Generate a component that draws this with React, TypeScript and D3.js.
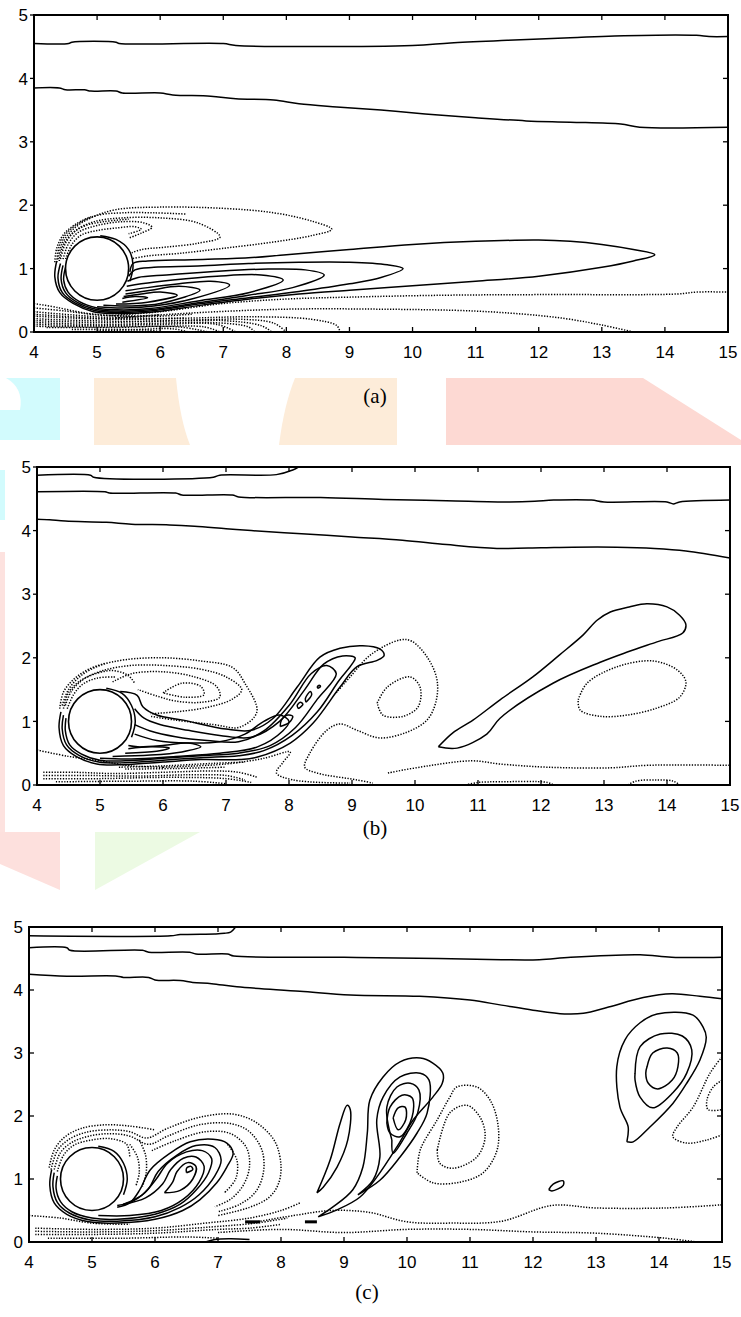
import * as d3 from 'd3';

type Pt = [number, number];

const xTicks = [4, 5, 6, 7, 8, 9, 10, 11, 12, 13, 14, 15];
const yTicks = [0, 1, 2, 3, 4, 5];
const cylinder = { cx: 5, cy: 1, r: 0.5 };

// ---------- panel (a) ----------
const aSolid: Pt[][] = [
  [[4, 4.55], [4.55, 4.55], [4.6, 4.57], [5.3, 4.57], [5.35, 4.55], [7, 4.55], [7.2, 4.52], [10, 4.52], [10.6, 4.56], [11.5, 4.6], [12.5, 4.64], [13.2, 4.67], [14.5, 4.68], [14.7, 4.66], [15, 4.66]],
  [[4, 3.85], [4.4, 3.85], [4.5, 3.82], [4.8, 3.82], [4.9, 3.8], [5.3, 3.8], [5.4, 3.77], [6.0, 3.77], [6.2, 3.74], [6.8, 3.72], [7.2, 3.68], [7.8, 3.66], [8.2, 3.6], [8.8, 3.55], [9.5, 3.5], [10.2, 3.44], [11, 3.38], [11.8, 3.33], [12.5, 3.31], [13.3, 3.28], [13.6, 3.23], [15, 3.23]],
  [[4.36, 1.12], [4.33, 0.87], [4.41, 0.62], [4.62, 0.45], [4.94, 0.32], [5.32, 0.29], [5.84, 0.31], [6.63, 0.42], [7.42, 0.52], [8.2, 0.6], [9, 0.66], [10, 0.73], [11, 0.8], [12, 0.88], [13, 1.02], [13.5, 1.12], [13.84, 1.22], [13.5, 1.3], [13, 1.38], [12.5, 1.43], [12, 1.45], [11, 1.43], [10, 1.38], [9, 1.3], [8, 1.22], [7.4, 1.17], [6.5, 1.14], [5.8, 1.12], [5.57, 1.08], [5.52, 0.95]],
  [[4.42, 1.08], [4.38, 0.85], [4.45, 0.62], [4.65, 0.46], [4.96, 0.34], [5.32, 0.31], [5.84, 0.33], [6.6, 0.44], [7.4, 0.54], [8.2, 0.64], [9, 0.76], [9.5, 0.86], [9.85, 1.0], [9.6, 1.06], [9, 1.1], [8.2, 1.1], [7.4, 1.08], [6.6, 1.04], [5.9, 1.02], [5.6, 0.98], [5.5, 0.88]],
  [[4.46, 1.05], [4.43, 0.83], [4.5, 0.62], [4.68, 0.47], [4.98, 0.36], [5.32, 0.33], [5.84, 0.35], [6.6, 0.46], [7.4, 0.58], [8.1, 0.7], [8.6, 0.9], [8.3, 0.98], [7.6, 0.99], [6.8, 0.95], [6.1, 0.9], [5.65, 0.86], [5.48, 0.8]],
  [[4.5, 1.02], [4.47, 0.82], [4.54, 0.63], [4.72, 0.48], [5.0, 0.38], [5.32, 0.35], [5.84, 0.37], [6.6, 0.49], [7.4, 0.62], [7.95, 0.82], [7.6, 0.9], [6.9, 0.88], [6.2, 0.82], [5.7, 0.76], [5.47, 0.72]],
  [[5.0, 0.4], [5.4, 0.38], [5.9, 0.41], [6.5, 0.52], [7.1, 0.74], [6.8, 0.8], [6.3, 0.76], [5.8, 0.7], [5.45, 0.65]],
  [[5.1, 0.42], [5.5, 0.41], [6.0, 0.45], [6.63, 0.66], [6.3, 0.72], [5.85, 0.66], [5.45, 0.6]],
  [[5.3, 0.44], [5.8, 0.47], [6.27, 0.58], [6.0, 0.63], [5.7, 0.6], [5.42, 0.56]],
  [[5.4, 0.47], [5.8, 0.54], [5.6, 0.56], [5.4, 0.53]],
  [[5.05, 1.52], [5.3, 1.46], [5.5, 1.3], [5.57, 1.05], [5.52, 0.8]],
];

const aDotted: Pt[][] = [
  [[4.38, 1.15], [4.45, 1.4], [4.62, 1.62], [4.9, 1.8], [5.3, 1.93], [6, 1.97], [7, 1.95], [7.8, 1.88], [8.4, 1.75], [8.72, 1.62], [8.4, 1.52], [7.8, 1.42], [7, 1.32], [6.3, 1.24], [5.8, 1.2], [5.57, 1.16]],
  [[4.42, 1.15], [4.5, 1.4], [4.66, 1.6], [4.95, 1.74], [5.4, 1.8], [6, 1.8], [6.6, 1.72], [6.95, 1.5], [6.6, 1.4], [6.1, 1.34], [5.7, 1.3], [5.55, 1.25]],
  [[4.46, 1.15], [4.55, 1.4], [4.7, 1.57], [5.0, 1.68], [5.4, 1.74], [5.75, 1.72], [5.87, 1.65], [5.7, 1.56], [5.5, 1.48]],
  [[4.5, 1.15], [4.6, 1.38], [4.75, 1.53], [5.0, 1.6], [5.3, 1.64], [5.6, 1.66], [5.7, 1.62], [5.5, 1.55]],
  [[4.36, 1.1], [4.4, 1.35], [4.52, 1.56], [4.72, 1.72], [5.0, 1.84], [5.4, 1.88], [5.9, 1.88], [6.4, 1.86]],
  [[4.4, 1.12], [4.46, 1.36], [4.6, 1.55], [4.82, 1.68], [5.1, 1.74], [5.5, 1.78]],
  [[4.33, 1.1], [4.36, 1.32], [4.47, 1.54], [4.66, 1.7], [4.9, 1.82]],
  [[4, 0.45], [4.4, 0.38], [4.8, 0.3], [5.2, 0.26], [5.6, 0.25]],
  [[4, 0.38], [4.5, 0.33], [5, 0.27], [5.5, 0.25], [6.0, 0.27]],
  [[4, 0.32], [4.6, 0.27], [5.2, 0.23], [5.8, 0.24], [6.5, 0.28]],
  [[4, 0.28], [4.6, 0.24], [5.2, 0.21], [5.8, 0.21], [6.4, 0.22]],
  [[5.2, 0.26], [6, 0.32], [7, 0.45], [8, 0.52], [9, 0.55], [10.5, 0.58], [12, 0.59], [14.2, 0.6], [14.5, 0.63], [15, 0.63]],
  [[5.3, 0.22], [6.5, 0.3], [8, 0.36], [9.5, 0.36], [11, 0.33], [12, 0.26], [12.5, 0.2], [13, 0.11], [13.5, 0.0]],
  [[4, 0.25], [4.6, 0.22], [5.4, 0.2], [6.5, 0.22], [7.5, 0.24], [8.4, 0.2], [8.8, 0.1], [8.85, 0]],
  [[4, 0.21], [4.8, 0.18], [5.6, 0.17], [6.6, 0.19], [7.3, 0.2], [7.8, 0.14], [8.0, 0]],
  [[4, 0.18], [5, 0.15], [6, 0.17], [7, 0.18], [7.6, 0.1], [7.77, 0]],
  [[4, 0.15], [5, 0.12], [6, 0.14], [6.8, 0.15], [7.4, 0.08], [7.5, 0]],
  [[4, 0.12], [5, 0.1], [6, 0.12], [6.9, 0.12], [7.2, 0]],
  [[4, 0.09], [5, 0.08], [6, 0.09], [6.7, 0.08], [6.95, 0]],
  [[4.2, 0.07], [5.2, 0.07], [6.3, 0.08], [6.76, 0]],
  [[4.6, 0.04], [5.6, 0.04], [6.2, 0.05], [6.45, 0]],
  [[5, 0.02], [5.8, 0.03], [6.04, 0]],
];

// ---------- panel (b) ----------
const bSolid: Pt[][] = [
  [[4, 4.87], [4.85, 4.87], [4.9, 4.84], [6.8, 4.84], [6.9, 4.87], [7.8, 4.88], [8.05, 4.95], [8.15, 5.0]],
  [[4, 4.61], [5.08, 4.61], [5.15, 4.59], [6.2, 4.59], [6.3, 4.56], [7.1, 4.56], [7.2, 4.53], [8.5, 4.52], [9.5, 4.49], [10.5, 4.47], [11.5, 4.45], [11.9, 4.46], [12.2, 4.48], [12.8, 4.48], [13.0, 4.45], [14.0, 4.45], [14.1, 4.42], [14.2, 4.45], [15, 4.48]],
  [[4, 4.18], [4.2, 4.17], [4.45, 4.15], [5.1, 4.13], [5.5, 4.1], [6.1, 4.09], [6.5, 4.07], [7, 4.03], [7.4, 4.0], [8.2, 3.95], [9, 3.9], [9.8, 3.85], [10.5, 3.78], [11.3, 3.72], [12, 3.73], [12.5, 3.74], [13.2, 3.74], [13.8, 3.72], [14.3, 3.68], [15, 3.57]],
  [[10.37, 0.6], [10.6, 0.82], [10.92, 1.02], [11.35, 1.34], [11.87, 1.7], [12.3, 2.05], [12.67, 2.36], [12.89, 2.59], [13.1, 2.72], [13.4, 2.8], [13.68, 2.85], [14.0, 2.8], [14.2, 2.67], [14.3, 2.52], [14.25, 2.39], [13.84, 2.25], [13.37, 2.09], [12.94, 1.93], [12.19, 1.6], [11.35, 1.05], [11.14, 0.8], [10.67, 0.58], [10.37, 0.6]],
  [[4.38, 1.15], [4.35, 0.9], [4.42, 0.62], [4.62, 0.45], [4.95, 0.33], [5.4, 0.32], [6.0, 0.36], [6.6, 0.4], [7.22, 0.4], [7.5, 0.44], [8.02, 0.66], [8.38, 0.97], [8.81, 1.54], [9.08, 1.86], [9.4, 1.96], [9.51, 2.04], [9.44, 2.14], [9.17, 2.19], [8.81, 2.15], [8.49, 2.01], [8.13, 1.54], [7.75, 1.05], [7.4, 0.86], [7.0, 0.88], [6.32, 1.02], [5.9, 1.1], [5.68, 1.23], [5.59, 1.41], [5.32, 1.47]],
  [[4.42, 1.1], [4.4, 0.88], [4.47, 0.63], [4.66, 0.47], [4.98, 0.36], [5.4, 0.35], [6, 0.39], [6.6, 0.43], [7.2, 0.46], [7.6, 0.54], [8.05, 0.78], [8.45, 1.15], [8.8, 1.65], [9.0, 1.9], [9.05, 2.0], [8.85, 2.03], [8.55, 1.9], [8.25, 1.5], [7.85, 1.0], [7.4, 0.75], [6.9, 0.78], [6.4, 0.86], [5.95, 0.95], [5.7, 1.05], [5.55, 1.2]],
  [[4.46, 1.05], [4.45, 0.85], [4.52, 0.63], [4.7, 0.49], [5.0, 0.39], [5.4, 0.38], [6, 0.42], [6.6, 0.46], [7.2, 0.5], [7.7, 0.62], [8.1, 0.9], [8.45, 1.35], [8.75, 1.75], [8.6, 1.88], [8.35, 1.75], [8.0, 1.25], [7.6, 0.85], [7.2, 0.68], [6.7, 0.7], [6.2, 0.76], [5.8, 0.85], [5.55, 0.95]],
  [[5.0, 0.42], [5.5, 0.41], [6.2, 0.45], [6.9, 0.5], [7.5, 0.6], [7.9, 0.85], [8.0, 1.0], [7.85, 1.1], [7.6, 1.0], [7.3, 0.8], [6.9, 0.68], [6.4, 0.66], [5.9, 0.7], [5.55, 0.8]],
  [[5.2, 0.45], [5.8, 0.47], [6.3, 0.52], [6.6, 0.6], [6.4, 0.66], [6.0, 0.62], [5.6, 0.6], [5.45, 0.62]],
  [[5.4, 0.5], [5.9, 0.53], [6.1, 0.58], [5.8, 0.6], [5.45, 0.57]],
  [[7.86, 0.92], [8.0, 0.98], [8.06, 1.08], [7.98, 1.1], [7.88, 1.02], [7.86, 0.92]],
  [[8.15, 1.2], [8.22, 1.27], [8.18, 1.3], [8.13, 1.25], [8.15, 1.2]],
  [[8.27, 1.3], [8.36, 1.42], [8.34, 1.47], [8.26, 1.36], [8.27, 1.3]],
  [[8.46, 1.52], [8.5, 1.55], [8.48, 1.57], [8.45, 1.54], [8.46, 1.52]],
  [[5.1, 1.52], [5.35, 1.44], [5.5, 1.25], [5.56, 1.0], [5.5, 0.75]],
];

const bDotted: Pt[][] = [
  [[4.4, 1.25], [4.5, 1.5], [4.7, 1.72], [5.0, 1.88], [5.4, 1.97], [6.0, 2.0], [6.6, 1.95], [7.1, 1.85], [7.3, 1.6], [7.49, 1.15], [7.22, 0.91], [6.8, 0.95], [6.2, 1.02], [5.8, 1.08]],
  [[4.45, 1.25], [4.55, 1.48], [4.75, 1.67], [5.05, 1.8], [5.5, 1.88], [6.0, 1.88], [6.6, 1.82], [7.0, 1.7], [7.25, 1.5], [7.1, 1.35], [6.7, 1.22], [6.2, 1.15], [5.8, 1.12]],
  [[5.2, 1.62], [5.5, 1.75], [6.0, 1.78], [6.5, 1.7], [6.85, 1.55], [6.9, 1.38], [6.6, 1.3], [6.2, 1.32], [5.9, 1.4], [5.6, 1.5]],
  [[6.0, 1.45], [6.3, 1.6], [6.6, 1.55], [6.65, 1.42], [6.35, 1.38], [6.0, 1.45]],
  [[4.42, 1.2], [4.5, 1.45], [4.66, 1.62], [4.9, 1.74], [5.2, 1.8], [5.45, 1.72], [5.55, 1.6]],
  [[4.48, 1.2], [4.58, 1.42], [4.72, 1.58], [4.95, 1.68], [5.25, 1.7]],
  [[4.36, 1.2], [4.42, 1.46], [4.58, 1.66], [4.82, 1.82], [5.1, 1.92]],
  [[8.75, 1.45], [8.97, 1.7], [9.3, 2.05], [9.76, 2.28], [9.95, 2.26], [10.2, 2.0], [10.35, 1.65], [10.33, 1.3], [10.19, 1.02], [9.87, 0.83], [9.44, 0.74], [9.08, 0.86], [8.81, 0.96], [8.6, 0.86], [8.33, 0.5], [8.25, 0.28], [8.44, 0.19], [9.08, 0.08], [9.33, 0.03]],
  [[9.4, 1.29], [9.56, 1.54], [9.92, 1.7], [10.08, 1.54], [10.05, 1.23], [9.81, 1.08], [9.49, 1.1], [9.4, 1.29]],
  [[12.59, 1.34], [12.73, 1.6], [13.21, 1.86], [13.78, 1.95], [14.16, 1.81], [14.3, 1.62], [14.2, 1.38], [13.84, 1.21], [13.37, 1.1], [12.94, 1.08], [12.62, 1.18], [12.59, 1.34]],
  [[6.0, 0.28], [7.0, 0.33], [7.6, 0.42], [8.02, 0.52], [7.9, 0.35], [7.8, 0.19], [8.06, 0.08], [8.97, 0.03]],
  [[9.57, 0.19], [10.2, 0.3], [10.9, 0.38], [11.35, 0.33], [12.1, 0.28], [13.1, 0.27], [13.7, 0.31], [15, 0.31]],
  [[13.38, 0], [13.5, 0.06], [13.84, 0.08], [14.1, 0.06], [14.2, 0]],
  [[10.8, 0.0], [11.0, 0.04], [11.35, 0.05], [12.1, 0.04], [12.2, 0]],
  [[4, 0.55], [4.5, 0.45], [5, 0.38], [5.5, 0.3], [6.0, 0.28]],
  [[4.1, 0.2], [4.6, 0.2], [5.2, 0.18], [6, 0.2], [6.8, 0.22], [7.2, 0.2], [7.5, 0.12]],
  [[4.1, 0.15], [4.8, 0.15], [5.6, 0.14], [6.4, 0.16], [7.0, 0.15], [7.3, 0.08]],
  [[4.1, 0.1], [5, 0.1], [6, 0.12], [7, 0.1], [7.4, 0.04]],
  [[4.3, 0.05], [5.5, 0.06], [6.5, 0.06], [7, 0.02]],
  [[5.3, 0.28], [6.0, 0.3], [6.8, 0.34], [7.3, 0.36]],
  [[5.4, 0.25], [6.2, 0.26], [7, 0.28]],
];

// ---------- panel (c) ----------
const cSolid: Pt[][] = [
  [[4, 4.86], [6.25, 4.86], [6.4, 4.88], [6.95, 4.89], [7.1, 4.9], [7.2, 4.92], [7.28, 5.0]],
  [[4, 4.67], [4.6, 4.67], [4.65, 4.63], [5.8, 4.63], [5.9, 4.6], [6.55, 4.6], [6.65, 4.57], [7.15, 4.57], [7.25, 4.54], [9, 4.52], [10.5, 4.5], [11.5, 4.48], [12.1, 4.48], [12.6, 4.52], [13.7, 4.56], [14.2, 4.52], [15, 4.52]],
  [[4, 4.25], [4.6, 4.22], [5.4, 4.22], [5.5, 4.2], [5.9, 4.2], [6.0, 4.16], [6.4, 4.15], [6.6, 4.12], [6.9, 4.1], [7.3, 4.05], [8.3, 3.98], [9.1, 3.92], [10.2, 3.9], [11, 3.84], [11.5, 3.76], [12, 3.68], [12.5, 3.62], [12.8, 3.63], [13.2, 3.73], [13.75, 3.88], [14.2, 3.94], [14.65, 3.9], [15, 3.86]],
  [[13.49, 1.59], [13.51, 1.83], [13.38, 2.14], [13.33, 2.78], [13.46, 3.21], [13.7, 3.48], [13.97, 3.62], [14.54, 3.6], [14.7, 3.41], [14.75, 3.25], [14.65, 2.89], [14.44, 2.52], [14.22, 2.2], [13.86, 1.83], [13.59, 1.59], [13.49, 1.59]],
  [[13.62, 2.68], [13.7, 3.1], [14.02, 3.3], [14.37, 3.27], [14.52, 3.05], [14.44, 2.68], [14.22, 2.37], [13.9, 2.13], [13.7, 2.3], [13.62, 2.57], [13.62, 2.68]],
  [[13.81, 2.78], [13.9, 3.0], [14.13, 3.08], [14.29, 3.0], [14.3, 2.78], [14.21, 2.57], [13.98, 2.43], [13.83, 2.52], [13.79, 2.68], [13.81, 2.78]],
  [[12.25, 0.83], [12.32, 0.92], [12.48, 0.97], [12.48, 0.9], [12.3, 0.81], [12.25, 0.83]],
  [[8.57, 0.78], [8.78, 1.3], [8.94, 1.89], [9.05, 2.17], [9.1, 2.1], [9.06, 1.62], [8.89, 1.19], [8.67, 0.87], [8.57, 0.78]],
  [[8.59, 0.4], [8.89, 0.51], [9.25, 0.71], [9.52, 1.03], [9.84, 1.51], [10.1, 1.94], [10.41, 2.3], [10.56, 2.52], [10.57, 2.68], [10.41, 2.84], [10.21, 2.92], [9.89, 2.86], [9.62, 2.62], [9.41, 2.25], [9.37, 1.73], [9.3, 1.19], [9.14, 0.83], [8.83, 0.56], [8.59, 0.4]],
  [[9.22, 0.75], [9.46, 0.98], [9.57, 1.35], [9.52, 1.94], [9.62, 2.3], [9.89, 2.62], [10.21, 2.68], [10.35, 2.57], [10.32, 2.05], [10.16, 1.73], [9.89, 1.35], [9.57, 0.98], [9.22, 0.75]],
  [[9.76, 1.62], [9.68, 2.14], [9.84, 2.46], [10.05, 2.52], [10.19, 2.41], [10.17, 2.05], [10.0, 1.73], [9.78, 1.41], [9.76, 1.62]],
  [[9.68, 1.89], [9.73, 2.14], [9.92, 2.33], [10.08, 2.29], [10.08, 1.98], [9.89, 1.67], [9.73, 1.73], [9.68, 1.89]],
  [[9.78, 1.97], [9.86, 2.13], [9.97, 2.14], [9.98, 1.94], [9.86, 1.78], [9.78, 1.97]],
  [[4.36, 1.15], [4.33, 0.9], [4.4, 0.62], [4.6, 0.44], [4.95, 0.32], [5.4, 0.3], [6.0, 0.36], [6.44, 0.5], [6.71, 0.67], [6.98, 0.94], [7.14, 1.19], [7.24, 1.41], [7.14, 1.57], [6.92, 1.63], [6.56, 1.59], [6.24, 1.41], [5.92, 1.14], [5.76, 0.83], [5.6, 0.62], [5.4, 0.55]],
  [[4.4, 1.1], [4.38, 0.88], [4.45, 0.63], [4.64, 0.46], [4.97, 0.35], [5.4, 0.33], [6.0, 0.4], [6.4, 0.55], [6.7, 0.75], [6.95, 1.05], [7.05, 1.3], [6.95, 1.5], [6.65, 1.53], [6.35, 1.38], [6.05, 1.12], [5.9, 0.85], [5.65, 0.65], [5.4, 0.58]],
  [[4.45, 1.05], [4.43, 0.85], [4.5, 0.64], [4.68, 0.48], [5.0, 0.38], [5.4, 0.36], [6.0, 0.44], [6.4, 0.6], [6.65, 0.82], [6.85, 1.1], [6.9, 1.32], [6.75, 1.45], [6.5, 1.43], [6.2, 1.25], [6.02, 1.0], [5.8, 0.75], [5.5, 0.6]],
  [[5.1, 0.42], [5.6, 0.42], [6.1, 0.5], [6.45, 0.68], [6.7, 0.95], [6.78, 1.2], [6.65, 1.35], [6.45, 1.33], [6.25, 1.15], [6.12, 0.92], [5.85, 0.7], [5.5, 0.6]],
  [[6.15, 0.78], [6.4, 0.82], [6.6, 1.0], [6.65, 1.2], [6.52, 1.26], [6.35, 1.12], [6.28, 0.95], [6.15, 0.78]],
  [[6.5, 1.1], [6.6, 1.15], [6.57, 1.2], [6.5, 1.17], [6.5, 1.1]],
  [[5.1, 1.52], [5.35, 1.44], [5.5, 1.25], [5.56, 1.0], [5.5, 0.75]],
  [[6.8, 0], [6.95, 0.04], [7.2, 0.05], [7.5, 0.04]],
];

const cDashes: Pt[][] = [
  [[7.43, 0.32], [7.67, 0.32]],
  [[8.38, 0.32], [8.57, 0.32]],
];

const cDotted: Pt[][] = [
  [[4.35, 1.15], [4.45, 1.45], [4.62, 1.62], [4.9, 1.74], [5.3, 1.78], [5.6, 1.75], [5.87, 1.65], [6.19, 1.8], [6.71, 1.98], [7.24, 2.03], [7.6, 1.9], [7.9, 1.6], [8.0, 1.2], [7.95, 0.9], [7.8, 0.7], [7.5, 0.55], [7.0, 0.42]],
  [[4.4, 1.15], [4.5, 1.42], [4.68, 1.58], [4.95, 1.68], [5.3, 1.72], [5.6, 1.68], [5.9, 1.55], [6.2, 1.68], [6.7, 1.86], [7.2, 1.88], [7.5, 1.75], [7.7, 1.45], [7.72, 1.1], [7.6, 0.8], [7.35, 0.6], [7.0, 0.48]],
  [[5.95, 1.45], [6.3, 1.6], [6.8, 1.75], [7.2, 1.72], [7.45, 1.5], [7.5, 1.2], [7.4, 0.9], [7.2, 0.68], [6.95, 0.56]],
  [[7.15, 1.55], [7.3, 1.3], [7.28, 1.0], [7.1, 0.78]],
  [[4.45, 1.12], [4.55, 1.38], [4.72, 1.54], [5.0, 1.62], [5.3, 1.64], [5.55, 1.55], [5.6, 1.35]],
  [[4.32, 1.18], [4.4, 1.46], [4.56, 1.66], [4.82, 1.8], [5.2, 1.86], [5.6, 1.84], [6.0, 1.78]],
  [[5.6, 1.55], [5.72, 1.35], [5.75, 1.1], [5.7, 0.9]],
  [[5.75, 1.62], [5.85, 1.38], [5.86, 1.1], [5.8, 0.88]],
  [[4, 0.42], [4.5, 0.38], [5.0, 0.3], [5.6, 0.28]],
  [[4.1, 0.22], [5, 0.2], [6, 0.22], [6.8, 0.3], [7.5, 0.38], [8.0, 0.5], [8.3, 0.62]],
  [[4.1, 0.17], [5, 0.16], [6, 0.18], [6.9, 0.24], [7.6, 0.3], [8.1, 0.38]],
  [[4.1, 0.12], [5, 0.12], [6, 0.14], [7, 0.2], [7.5, 0.22], [8, 0.28]],
  [[4.3, 0.06], [5.5, 0.06], [6.5, 0.08], [7, 0.06]],
  [[7.5, 0.3], [8.2, 0.42], [8.8, 0.5], [9.4, 0.47], [10, 0.32], [10.7, 0.3], [11.5, 0.33], [12.3, 0.58], [13, 0.54], [14.1, 0.54], [15, 0.59]],
  [[7.0, 0.15], [8, 0.2], [9, 0.15], [10, 0.2], [11, 0.2], [12, 0.16], [13, 0.14], [14.1, 0.06], [14.6, 0]],
  [[10.16, 1.1], [10.21, 1.46], [10.48, 1.94], [10.68, 2.3], [10.79, 2.46], [11.11, 2.46], [11.32, 2.25], [11.44, 1.89], [11.43, 1.46], [11.21, 1.1], [10.84, 0.95], [10.41, 0.94], [10.16, 1.1]],
  [[10.48, 1.46], [10.68, 2.05], [10.95, 2.17], [11.16, 1.98], [11.24, 1.67], [11.11, 1.35], [10.73, 1.17], [10.52, 1.25], [10.48, 1.46]],
  [[15, 2.94], [14.81, 2.68], [14.54, 2.14], [14.29, 1.83], [14.22, 1.67], [14.44, 1.57], [14.76, 1.62], [15, 1.7]],
  [[15, 2.57], [14.86, 2.46], [14.76, 2.25], [14.78, 2.1], [15, 2.1]],
];

const panels = [
  { id: 'a', caption: '(a)', left: 34, right: 728, top: 15, bottom: 332, capX: 375, capY: 403, leftOut: true, solid: aSolid, dotted: aDotted, dashes: [] as Pt[][] },
  { id: 'b', caption: '(b)', left: 37, right: 730, top: 467, bottom: 785, capX: 375, capY: 835, leftOut: true, solid: bSolid, dotted: bDotted, dashes: [] as Pt[][] },
  { id: 'c', caption: '(c)', left: 29, right: 722, top: 927, bottom: 1242, capX: 367, capY: 1299, leftOut: false, solid: cSolid, dotted: cDotted, dashes: cDashes },
];

function Panel({ p }: { p: typeof panels[number] }) {
  const x = d3.scaleLinear().domain([4, 15]).range([p.left, p.right]);
  const y = d3.scaleLinear().domain([0, 5]).range([p.bottom, p.top]);
  const line = d3.line<Pt>().x(d => x(d[0])).y(d => y(d[1])).curve(d3.curveCatmullRom.alpha(0.5));
  const tick = 5;
  const font = "'Liberation Sans', Arial, sans-serif";
  return (
    <g>
      <defs>
        <clipPath id={`clip-${p.id}`}>
          <rect x={p.left} y={p.top} width={p.right - p.left} height={p.bottom - p.top} />
        </clipPath>
      </defs>
      <rect x={p.left} y={p.top} width={p.right - p.left} height={p.bottom - p.top} fill="#fff" />
      <g clipPath={`url(#clip-${p.id})`}>
        {p.dotted.map((d, i) => (
          <path key={`d${i}`} d={line(d) || ''} fill="none" stroke="#000" strokeWidth={1.5} strokeDasharray="1.3 1.5" />
        ))}
        {p.solid.map((d, i) => (
          <path key={`s${i}`} d={line(d) || ''} fill="none" stroke="#000" strokeWidth={1.5} />
        ))}
        {p.dashes.map((d, i) => (
          <path key={`k${i}`} d={line(d) || ''} fill="none" stroke="#000" strokeWidth={3} />
        ))}
        <ellipse cx={x(cylinder.cx)} cy={y(cylinder.cy)} rx={x(cylinder.cx + cylinder.r) - x(cylinder.cx)}
          ry={y(cylinder.cy) - y(cylinder.cy + cylinder.r)} fill="#fff" stroke="#000" strokeWidth={1.6} />
      </g>
      <rect x={p.left} y={p.top} width={p.right - p.left} height={p.bottom - p.top} fill="none" stroke="#000" strokeWidth={2} />
      {xTicks.map(t => (
        <g key={`x${t}`}>
          <line x1={x(t)} x2={x(t)} y1={p.bottom} y2={p.bottom - tick} stroke="#000" strokeWidth={1.3} />
          <line x1={x(t)} x2={x(t)} y1={p.top} y2={p.top + tick} stroke="#000" strokeWidth={1.3} />
          <text x={x(t)} y={p.bottom + 26} textAnchor="middle" fontFamily={font} fontSize={17}>{t}</text>
        </g>
      ))}
      {yTicks.map(t => (
        <g key={`y${t}`}>
          <line x1={p.leftOut ? p.left - 4 : p.left} x2={p.leftOut ? p.left : p.left + tick} y1={y(t)} y2={y(t)} stroke="#000" strokeWidth={1.3} />
          <line x1={p.right} x2={p.right - tick} y1={y(t)} y2={y(t)} stroke="#000" strokeWidth={1.3} />
          <text x={p.left - 6} y={y(t)} dy="0.36em" textAnchor="end" fontFamily={font} fontSize={17}>{t}</text>
        </g>
      ))}
      <text x={p.capX} y={p.capY} textAnchor="middle" fontFamily="'Liberation Serif', 'Times New Roman', serif" fontSize={21}>{p.caption}</text>
    </g>
  );
}

function Watermark() {
  return (
    <g>
      <path d="M0,378 L60,378 L60,440 L0,440 L0,410 L20,410 Q24,388 6,378 Z" fill="#d2fbfd" />
      <path d="M94,378 L176,378 Q180,420 190,445 L94,445 Z" fill="#fdecd9" />
      <path d="M295,378 L397,378 L397,445 L279,445 Q284,405 295,378 Z" fill="#fdecd9" />
      <path d="M446,378 L643,378 L741,440 L741,445 L446,445 Z" fill="#fdd9d3" />
      <rect x={0} y={470} width={5} height={50} fill="#d2fbfd" />
      <rect x={0} y={552} width={5} height={280} fill="#fde2df" />
      <path d="M0,832 L60,832 L60,890 L0,864 Z" fill="#fde0dd" />
      <path d="M95,832 L200,832 L95,890 Z" fill="#ecfae3" />
    </g>
  );
}

export default function App() {
  return (
    <svg width={741} height={1317} style={{ position: 'absolute', left: 0, top: 0, background: '#fff' }}>
      <Watermark />
      {panels.map(p => <Panel key={p.id} p={p} />)}
    </svg>
  );
}
